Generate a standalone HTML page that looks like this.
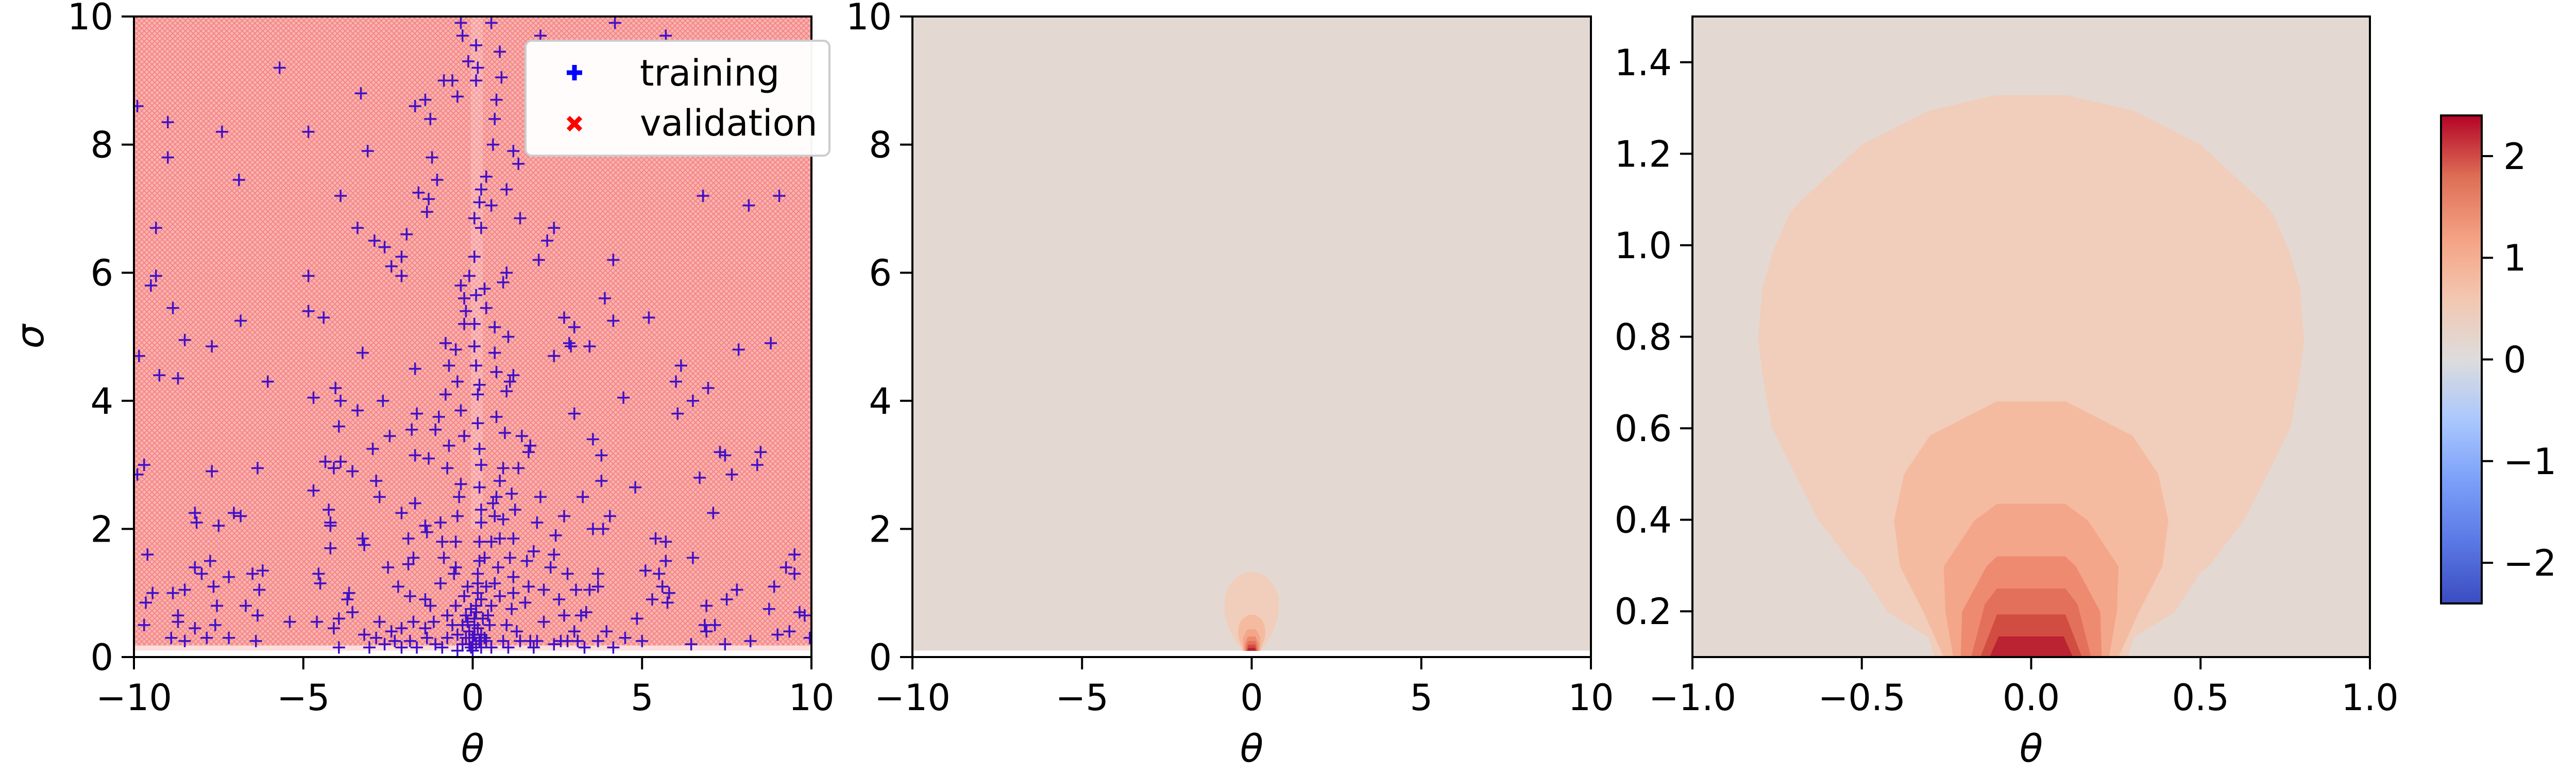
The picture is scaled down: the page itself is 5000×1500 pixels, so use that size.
<!DOCTYPE html>
<html><head><meta charset="utf-8"><style>
html,body{margin:0;padding:0;background:#fff;}
svg{display:block;}
text{font-family:"DejaVu Sans","Liberation Sans",sans-serif;fill:#000;}
</style></head><body>
<svg id="fig" width="5000" height="1500" viewBox="0 0 5000 1500" xmlns="http://www.w3.org/2000/svg">
<defs>
<pattern id="hatch" width="10" height="10" patternUnits="userSpaceOnUse">
<path d="M0,0 L10,10 M10,0 L0,10" stroke="#ee5555" stroke-width="1.6" stroke-opacity="0.55"/>
</pattern>
<linearGradient id="cmap" x1="0" y1="1" x2="0" y2="0">
<stop offset="0" stop-color="#3b4cc0"/><stop offset="0.125" stop-color="#5a78e4"/>
<stop offset="0.25" stop-color="#7b9ff9"/><stop offset="0.375" stop-color="#aac7fd"/>
<stop offset="0.5" stop-color="#dddcdc"/><stop offset="0.625" stop-color="#f3c7b1"/>
<stop offset="0.75" stop-color="#f4a183"/><stop offset="0.875" stop-color="#dd6e56"/>
<stop offset="1" stop-color="#b40426"/>
</linearGradient>
<clipPath id="clip1"><rect x="260" y="32" width="1315" height="1243"/></clipPath>
<clipPath id="clip2"><rect x="1771" y="32" width="1317" height="1231"/></clipPath>
<clipPath id="clip3"><rect x="3285" y="32" width="1315" height="1243"/></clipPath>
</defs>
<g id="p1"></g>
<g id="p2"></g>
<g id="p3"></g>
<g id="cb"></g>
</svg>
<script>
// training points [theta, sigma]
const trainingPoints = [
[-5.7,9.2],[-9.9,8.6],[-9.0,8.35],[-9.0,7.8],[-7.4,8.2],[-6.9,7.45],[-4.85,8.2],[-3.3,8.8],[-3.1,7.9],[-3.9,7.2],
[-3.4,6.7],[-2.9,6.5],[-2.6,6.4],[-2.4,6.1],[-2.1,6.25],[-1.95,6.6],[-2.1,5.95],[-1.7,8.6],[-1.4,8.7],[-1.25,8.4],
[-1.2,7.8],[-1.6,7.25],[-1.3,7.15],[-1.35,6.95],[-1.05,7.45],[-0.85,9.0],[-0.6,9.0],[-0.45,8.75],[-0.35,9.9],[-0.3,9.7],
[-0.13,9.3],[0.1,9.55],[0.15,9.2],[0.1,9.0],[0.55,9.9],[0.8,9.45],[0.85,9.05],[0.7,8.7],[0.65,8.4],[0.6,8.0],
[0.4,7.5],[0.25,7.3],[0.55,7.05],[1.0,7.3],[1.2,7.9],[1.35,7.7],[1.4,6.85],[2.0,9.7],[2.4,6.7],[2.2,6.5],
[1.95,6.2],[4.2,9.9],[5.7,9.7],[6.8,7.2],[8.15,7.05],[9.05,7.2],[4.15,6.2],[3.9,5.6],[5.2,5.3],[2.7,5.3],
[3.0,5.15],[2.9,4.85],[3.45,4.85],[4.15,5.25],[2.85,4.9],[2.4,4.7],[6.15,4.55],[6.0,4.3],[6.5,4.0],[6.95,4.2],
[7.85,4.8],[8.8,4.9],[4.45,4.05],[3.0,3.8],[3.55,3.4],[3.8,3.15],[6.05,3.8],[7.3,3.2],[7.45,3.15],[7.65,2.85],
[8.4,3.0],[8.5,3.2],[6.7,2.8],[3.8,2.75],[3.25,2.5],[4.8,2.65],[4.05,2.2],[3.85,2.0],[3.55,2.0],[7.1,2.25],
[5.4,1.85],[5.7,1.8],[5.7,1.5],[6.5,1.55],[9.5,1.6],[9.25,1.4],[9.5,1.3],[5.1,1.35],[5.5,1.3],[5.6,1.1],
[5.8,1.0],[5.3,0.9],[5.75,0.85],[7.8,1.05],[7.5,0.9],[6.9,0.8],[8.9,1.1],[8.75,0.75],[9.8,0.65],[9.65,0.7],
[9.95,0.3],[9.35,0.4],[9.0,0.35],[8.2,0.25],[7.45,0.2],[6.85,0.5],[7.15,0.5],[6.45,0.2],[6.9,0.4],[5.0,0.25],
[4.85,0.6],[4.5,0.3],[4.15,0.15],[3.7,0.25],[3.3,0.15],
[-9.7,3.0],[-9.9,2.85],[-9.5,5.8],[-9.35,5.95],[-9.35,6.7],[-8.85,5.45],[-8.5,4.95],[-9.25,4.4],[-8.7,4.35],[-7.7,4.85],
[-9.85,4.7],[-6.85,5.25],[-6.05,4.3],[-7.7,2.9],[-6.35,2.95],[-8.2,2.25],[-8.15,2.1],[-7.5,2.05],[-7.05,2.25],[-6.85,2.2],
[-9.6,1.6],[-7.75,1.5],[-8.2,1.4],[-8.0,1.3],[-7.2,1.25],[-6.5,1.3],[-6.2,1.35],[-7.65,1.1],[-6.3,1.05],[-8.5,1.05],
[-8.85,1.0],[-9.45,1.0],[-9.65,0.85],[-9.7,0.5],[-8.7,0.65],[-8.7,0.55],[-8.2,0.45],[-7.55,0.8],[-7.6,0.5],[-6.7,0.8],
[-6.35,0.65],[-6.4,0.25],[-7.2,0.3],[-7.85,0.3],[-8.5,0.25],[-8.9,0.3],[-5.4,0.55],[-4.6,0.55],[-4.55,1.3],[-4.5,1.15],
[-4.2,1.7],[-4.2,2.1],[-4.2,2.05],[-4.25,2.3],[-4.7,2.6],[-4.35,3.05],[-3.9,3.05],[-4.1,2.95],[-3.55,2.9],[-3.4,3.85],
[-3.9,4.0],[-4.05,4.2],[-3.95,3.6],[-4.7,4.05],[-3.25,4.75],[-4.4,5.3],[-4.85,5.4],[-4.85,5.95],[-2.65,4.0],[-2.45,3.45],
[-2.95,3.25],[-2.85,2.75],[-2.75,2.5],[-3.25,1.85],[-3.2,1.75],[-3.65,1.0],[-3.7,0.9],[-3.55,0.7],[-3.95,0.6],[-4.1,0.45],
[-3.95,0.15],[-3.05,0.15],[-2.85,0.3],[-2.6,0.2],[-2.5,1.4],[-2.2,1.1],[-2.1,2.25],[-1.9,1.85],[-1.9,1.45],[-1.75,1.55],
[-1.85,0.95],[-1.75,0.55],[-2.1,0.45],[-1.7,2.4],[-1.7,3.15],[-1.8,3.55],[-1.65,3.8],[-1.7,4.5],[-1.85,0.25],[-1.4,2.05],
[-1.35,1.95],[-1.3,3.1],[-1.1,3.55],[-1.0,3.75],[-0.95,2.1],[-0.9,1.8],[-0.85,1.55],[-0.95,1.15],[-1.25,0.8],[-1.4,0.9],
[-1.1,0.2],[-0.75,2.95],[-0.7,3.3],[-0.8,4.1],[-0.8,4.9],[-0.7,4.55],[-0.75,0.65],[-0.6,0.5],[-0.55,1.3],[-0.45,2.2],
[-0.4,2.5],[-0.35,2.7],[-0.25,3.45],[-0.35,3.85],[-0.45,4.3],[-0.5,4.8],[-0.25,5.2],[-0.2,5.4],[-0.25,5.6],[-0.35,5.8],
[-0.1,5.95],[-0.5,1.8],[-0.5,1.4],[-0.25,0.95],[-0.2,0.65],[-0.1,0.4],[-0.1,0.2],[0,0.3],[0.05,0.5],[0.05,0.6],
[0.1,0.7],[0.1,0.8],[0.15,1.0],[0.15,1.15],[0.15,1.3],[0.2,1.5],[0.2,1.8],[0.25,2.1],[0.25,2.3],[0.2,2.65],
[0.25,3.0],[0.2,3.25],[0.15,3.65],[0.15,4.1],[0.2,4.25],[0.1,4.55],[0.05,4.85],[0.05,5.2],[0.1,5.65],[0.05,6.25],
[0.25,6.7],[0.05,6.85],[0.2,7.1],[0.4,0.25],[0.5,0.5],[0.45,0.65],[0.55,0.8],[0.65,1.15],[0.35,1.55],[0.55,1.8],
[0.65,2.2],[0.6,2.4],[0.7,2.5],[0.9,2.15],[0.8,1.85],[0.75,1.4],[0.8,0.95],[1.0,0.5],[0.9,0.25],[0.8,2.75],
[0.9,2.95],[0.95,3.5],[0.7,3.75],[0.7,4.45],[0.65,4.75],[0.65,5.15],[0.4,5.45],[0.35,5.75],[0.9,5.85],[1.0,6.0],
[1.05,5.0],[1.1,4.3],[1.0,4.15],[1.2,4.4],[1.15,2.55],[1.2,1.85],[1.25,2.3],[1.1,1.55],[1.2,1.25],[1.2,1.0],
[1.15,0.75],[1.3,0.4],[1.4,0.25],[1.55,0.85],[1.65,1.1],[1.6,1.5],[1.8,1.65],[1.9,2.1],[2.0,2.5],[1.45,3.45],
[1.65,3.2],[1.7,3.3],[1.35,2.95],[1.9,0.25],[1.8,0.15],[2.1,0.55],[2.1,1.05],[2.3,1.4],[2.45,1.9],[2.7,2.2],
[2.8,1.3],[2.55,0.9],[2.7,0.65],[2.8,0.25],[3.1,0.25],[3.0,0.4],[3.2,0.65],[3.35,0.7],[3.45,1.05],[3.05,1.05],
[3.7,1.3],[3.7,1.1],[3.95,0.4],[2.4,1.6],
[-0.75,0.3],[-0.9,0.15],[-1.35,0.3],[-1.65,0.15],[-2.1,0.15],[-2.3,0.25],[-0.45,0.1],[0,0.1],[0.25,0.15],[0.55,0.15],
[1.05,0.15],[1.7,0.25],[2.4,0.2],[2.6,0.25],[-0.3,0.5],[0.25,0.35],[-0.05,0.75],[-0.15,1.1],[-0.45,0.35],[-0.5,0.8],
[0.25,0.9],[0.4,1.1],[-1.4,0.45],[-1.15,0.55],[-2.4,0.4],[-2.75,0.55],[-3.2,0.35],
[0.1,0.2],[-0.05,0.15],[0.15,0.45],[-0.2,0.3],[0.3,0.6],[-0.3,0.2],[0.2,0.25],[0.05,0.35],[-0.15,0.55],[0.35,0.3]
];
// contour boundaries (right half, mirrored): [theta, sigma]
const contourLevel1 = [[0,1.328],[0.105,1.328],[0.303,1.294],[0.5,1.22],[0.68,1.097],[0.713,1.07],[0.761,0.989],[0.793,0.909],[0.806,0.796],[0.793,0.715],[0.766,0.602],[0.698,0.5],[0.63,0.401],[0.527,0.301],[0.5,0.285],[0.425,0.199],[0.303,0.143],[0.285,0.1]];
const contourLevel2 = [[0,0.659],[0.101,0.659],[0.299,0.584],[0.375,0.5],[0.405,0.398],[0.387,0.298],[0.317,0.197],[0.258,0.1]];
const contourLevel3 = [[0,0.435],[0.101,0.435],[0.168,0.398],[0.258,0.298],[0.253,0.199],[0.23,0.1]];
const contourLevel4 = [[0,0.32],[0.101,0.32],[0.132,0.298],[0.204,0.199],[0.208,0.1]];
const contourLevel5 = [[0,0.25],[0.101,0.25],[0.137,0.215],[0.177,0.1]];
const contourLevel6 = [[0,0.193],[0.101,0.193],[0.15,0.1]];
const contourLevel7 = [[0,0.145],[0.096,0.145],[0.123,0.1]];
const contourColors = ["#f1cdbb","#f5bba0","#f3a689","#ee8a6f","#e3705a","#d14d41","#bb2232"];
const bgColor = "#e3d9d2";
const p1XTicks = [-10,-5,0,5,10], p1YTicks = [0,2,4,6,8,10];
const p3XTicks = [-1,-0.5,0,0.5,1], p3YTicks = [0.2,0.4,0.6,0.8,1.0,1.2,1.4];
const p3XLabels = ["\u22121.0","\u22120.5","0.0","0.5","1.0"];
const p3YLabels = ["0.2","0.4","0.6","0.8","1.0","1.2","1.4"];
const cbTicks = [-2,-1,0,1,2];
const cbLabels = ["\u22122","\u22121","0","1","2"];
const cbRange = [-2.4,2.4];

const NS="http://www.w3.org/2000/svg";
function mk(parent, tag, attrs){const e=document.createElementNS(NS,tag);for(const k in attrs)e.setAttribute(k,attrs[k]);parent.appendChild(e);return e;}
function scale(d0,d1,r0,r1){return v=>r0+(v-d0)/(d1-d0)*(r1-r0);}

function axes(g, L, T, W, H, xs, ys, xt, xl, yt, yl, prefix){
  mk(g,'rect',{x:L,y:T,width:W,height:H,fill:'none',stroke:'#000','stroke-width':4});
  xt.forEach((v,i)=>{
    const x=xs(v);
    const t=mk(g,'line',{x1:x,x2:x,y1:T+H,y2:T+H+24,stroke:'#000','stroke-width':4});
     
    const tx=mk(g,'text',{x:x,y:T+H+103,'font-size':70,'text-anchor':'middle'});
    tx.textContent=xl[i];
     
  });
  yt.forEach((v,i)=>{
    const y=ys(v);
    const t=mk(g,'line',{x1:L-24,x2:L,y1:y,y2:y,stroke:'#000','stroke-width':4});
     
    const tx=mk(g,'text',{x:L-40,y:y+25,'font-size':70,'text-anchor':'end'});
    tx.textContent=yl[i];
     
  });
  const xlab=mk(g,'text',{x:L+W/2,y:1478,'font-size':74,'font-style':'italic','text-anchor':'middle'});
  xlab.textContent='θ';
   
}

function contours(g, xs, ys){
  const levels=[contourLevel1,contourLevel2,contourLevel3,contourLevel4,contourLevel5,contourLevel6,contourLevel7];
  levels.forEach((lv,i)=>{
    const right=lv.map(p=>xs(p[0])+','+ys(p[1]));
    const left=lv.slice().reverse().map(p=>xs(-p[0])+','+ys(p[1]));
    const bottomY=ys(0.1)+20;
    const pts=right.concat([xs(lv[lv.length-1][0])+','+bottomY, xs(-lv[lv.length-1][0])+','+bottomY]).concat(left);
    const pg=mk(g,'polygon',{points:pts.join(' '),fill:contourColors[i]});
     
  });
}

// Panel 1
(function(){
  const g=document.getElementById('p1');
  const L=260,T=32,W=1315,H=1243;
  const xs=scale(-10,10,L,L+W), ys=scale(0,10,T+H,T);
  const cg=mk(g,'g',{'clip-path':'url(#clip1)'});
  const f=mk(cg,'rect',{x:L,y:T,width:W,height:ys(0.18)-T,fill:'#f9b3b1'});
   
  mk(cg,'rect',{x:L,y:T,width:W,height:ys(0.18)-T,fill:'url(#hatch)'});
  mk(cg,'rect',{x:L,y:ys(0.18),width:W,height:ys(0.1)-ys(0.18),fill:'#fbd0cf',opacity:0.7});
  mk(cg,'rect',{x:xs(-0.05),y:T,width:xs(0.3)-xs(-0.05),height:ys(2)-T,fill:'#fff',opacity:0.18});
  const pg=mk(cg,'g',{stroke:'#4010c8','stroke-width':3.5,fill:'none'});
   
  trainingPoints.forEach(p=>{
    const x=xs(p[0]), y=ys(p[1]);
    const m=mk(pg,'path',{d:`M${x-12},${y}H${x+12}M${x},${y-12}V${y+12}`});
     
  });
  axes(g,L,T,W,H,xs,ys,p1XTicks,p1XTicks.map(v=>v<0?'\u2212'+(-v):''+v),p1YTicks,p1YTicks.map(String),'panel1');
  const yl=mk(g,'text',{x:0,y:0,'font-size':74,'font-style':'italic','text-anchor':'middle',transform:'translate(84,653) rotate(-90)'});
  yl.textContent='σ';
   
  // legend
  const lg=mk(g,'g',{});
   
  mk(lg,'rect',{x:1020,y:79,width:590,height:223,rx:12,fill:'#fff','fill-opacity':0.96,stroke:'#cccccc','stroke-width':4});
  const e1=mk(lg,'path',{d:'M1100,141H1130M1115,126V156',stroke:'#0000ff','stroke-width':9});
   
  const t1=mk(lg,'text',{x:1242,y:166,'font-size':70}); t1.textContent='training';
   
  const e2=mk(lg,'path',{d:'M1103,228L1127,252M1127,228L1103,252',stroke:'#ff0000','stroke-width':9});
   
  const t2=mk(lg,'text',{x:1242,y:263,'font-size':70}); t2.textContent='validation';
   
})();

// Panel 2
(function(){
  const g=document.getElementById('p2');
  const L=1771,T=32,W=1317,H=1243;
  const xs=scale(-10,10,L,L+W), ys=scale(0,10,T+H,T);
  const cg=mk(g,'g',{'clip-path':'url(#clip2)'});
  const bg=mk(cg,'rect',{x:L,y:T,width:W,height:ys(0.1)-T,fill:bgColor});
   
  contours(cg,xs,ys);
  axes(g,L,T,W,H,xs,ys,p1XTicks,p1XTicks.map(v=>v<0?'\u2212'+(-v):''+v),p1YTicks,p1YTicks.map(String),'panel2');
})();

// Panel 3
(function(){
  const g=document.getElementById('p3');
  const L=3285,T=32,W=1315,H=1243;
  const xs=scale(-1,1,L,L+W), ys=scale(0.1,1.5,T+H,T);
  const cg=mk(g,'g',{'clip-path':'url(#clip3)'});
  const bg=mk(cg,'rect',{x:L,y:T,width:W,height:H,fill:bgColor});
   
  contours(cg,xs,ys);
  axes(g,L,T,W,H,xs,ys,p3XTicks,p3XLabels,p3YTicks,p3YLabels,'panel3');
})();

// Colorbar
(function(){
  const g=document.getElementById('cb');
  const L=4738,T=224,W=79,B=1171;
  const ys=scale(cbRange[0],cbRange[1],B,T);
  const r=mk(g,'rect',{x:L,y:T,width:W,height:B-T,fill:'url(#cmap)',stroke:'#000','stroke-width':4});
   
  cbTicks.forEach((v,i)=>{
    const y=ys(v);
    const t=mk(g,'line',{x1:L+W,x2:L+W+22,y1:y,y2:y,stroke:'#000','stroke-width':4});
     
    const tx=mk(g,'text',{x:L+W+42,y:y+25,'font-size':70}); tx.textContent=cbLabels[i];
     
  });
})();
</script>
</body></html>
